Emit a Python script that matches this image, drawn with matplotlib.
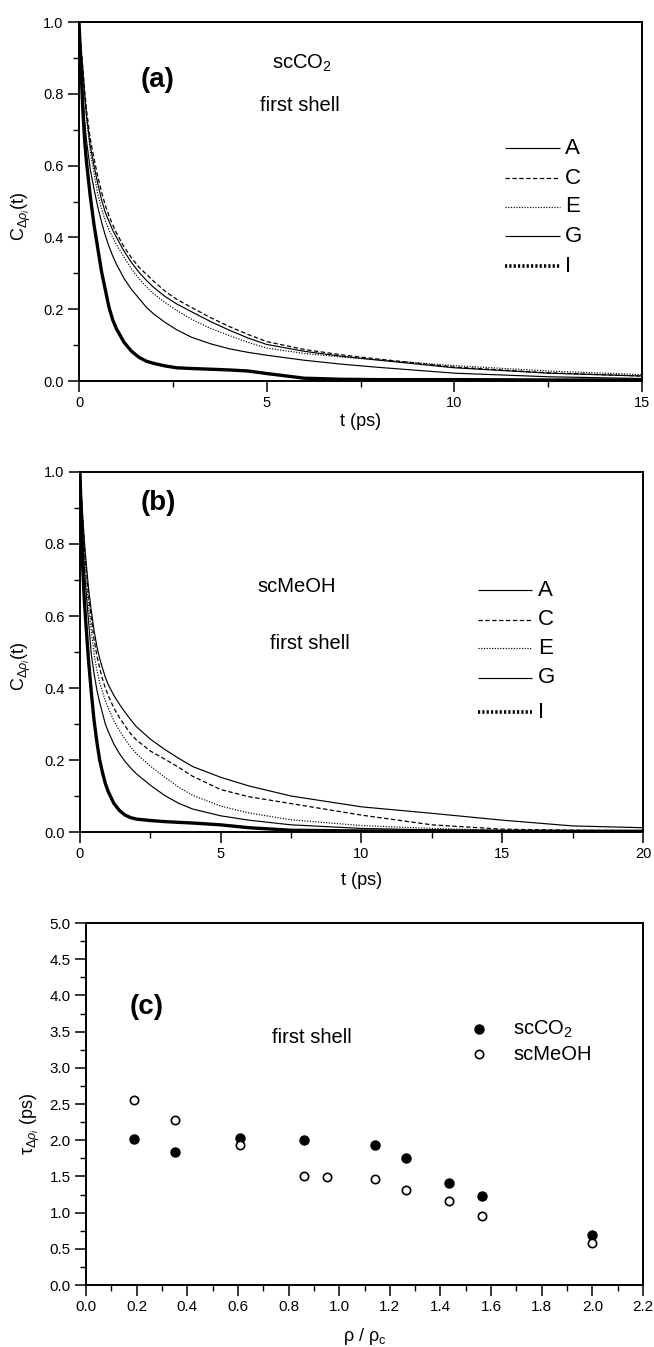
import matplotlib
matplotlib.use("Agg")
import matplotlib.pyplot as plt
from matplotlib.ticker import MultipleLocator
import numpy as np

plt.rcParams['font.family'] = ['Liberation Sans', 'DejaVu Sans']
plt.rcParams['mathtext.fontset'] = 'custom'
plt.rcParams['mathtext.rm'] = 'Liberation Sans'
plt.rcParams['mathtext.it'] = 'Liberation Sans:italic'
plt.rcParams['mathtext.bf'] = 'Liberation Sans:bold'

# ---- panel (a): scCO2, first shell ----
t_a = [0, 0.05, 0.1, 0.15, 0.2, 0.3, 0.4, 0.5, 0.6, 0.7, 0.8, 0.9, 1.0, 1.2,
       1.4, 1.6, 1.8, 2.0, 2.3, 2.6, 3.0, 3.5, 4.0, 4.5, 5.0, 6.0, 7.0, 8.0,
       10, 12.5, 15]
A_a = [1.0, 0.93, 0.87, 0.80, 0.74, 0.655, 0.60, 0.55, 0.505, 0.47, 0.445,
       0.42, 0.40, 0.362, 0.33, 0.303, 0.28, 0.26, 0.235, 0.215, 0.193, 0.166,
       0.142, 0.12, 0.102, 0.083, 0.069, 0.058, 0.037, 0.022, 0.014]
C_a = [1.0, 0.935, 0.875, 0.81, 0.755, 0.675, 0.62, 0.57, 0.527, 0.49, 0.46,
       0.435, 0.412, 0.374, 0.343, 0.317, 0.297, 0.277, 0.25, 0.228, 0.205,
       0.177, 0.152, 0.13, 0.11, 0.088, 0.073, 0.061, 0.039, 0.023, 0.014]
E_a = [1.0, 0.925, 0.86, 0.79, 0.73, 0.64, 0.58, 0.52, 0.48, 0.447, 0.42,
       0.40, 0.38, 0.345, 0.312, 0.285, 0.262, 0.242, 0.218, 0.197, 0.172,
       0.147, 0.127, 0.108, 0.092, 0.077, 0.067, 0.059, 0.043, 0.028, 0.018]
G_a = [1.0, 0.90, 0.80, 0.725, 0.67, 0.59, 0.535, 0.485, 0.443, 0.406, 0.375,
       0.348, 0.325, 0.286, 0.255, 0.23, 0.205, 0.186, 0.163, 0.143, 0.122,
       0.104, 0.09, 0.08, 0.072, 0.058, 0.047, 0.038, 0.022, 0.012, 0.007]
I_a = [1.0, 0.88, 0.76, 0.67, 0.61, 0.515, 0.435, 0.37, 0.305, 0.255, 0.205,
       0.17, 0.145, 0.108, 0.083, 0.066, 0.055, 0.049, 0.042, 0.037, 0.035,
       0.033, 0.031, 0.028, 0.021, 0.008, 0.005, 0.004, 0.004, 0.003, 0.003]

# ---- panel (b): scMeOH, first shell ----
t_b = [0, 0.05, 0.1, 0.15, 0.2, 0.3, 0.4, 0.5, 0.6, 0.7, 0.8, 0.9, 1.0, 1.2,
       1.4, 1.6, 1.8, 2.0, 2.5, 3.0, 3.5, 4.0, 5.0, 6.0, 7.5, 10, 12.5, 15,
       17.5, 20]
A_b = [1.0, 0.935, 0.875, 0.815, 0.765, 0.68, 0.615, 0.56, 0.515, 0.482, 0.455,
       0.43, 0.41, 0.38, 0.355, 0.333, 0.312, 0.293, 0.258, 0.23, 0.205, 0.182,
       0.152, 0.128, 0.10, 0.07, 0.052, 0.033, 0.017, 0.012]
C_b = [1.0, 0.93, 0.865, 0.80, 0.75, 0.66, 0.595, 0.535, 0.49, 0.455, 0.425,
       0.40, 0.38, 0.345, 0.318, 0.295, 0.273, 0.256, 0.225, 0.203, 0.18, 0.155,
       0.118, 0.098, 0.079, 0.047, 0.02, 0.008, 0.005, 0.004]
E_b = [1.0, 0.92, 0.85, 0.78, 0.725, 0.63, 0.56, 0.495, 0.45, 0.415, 0.39,
       0.365, 0.345, 0.31, 0.282, 0.258, 0.236, 0.218, 0.183, 0.153, 0.125,
       0.102, 0.072, 0.053, 0.034, 0.018, 0.01, 0.005, 0.004, 0.003]
G_b = [1.0, 0.91, 0.82, 0.74, 0.685, 0.59, 0.495, 0.44, 0.395, 0.36, 0.33,
       0.30, 0.28, 0.245, 0.218, 0.196, 0.178, 0.162, 0.13, 0.102, 0.08, 0.064,
       0.045, 0.033, 0.02, 0.01, 0.006, 0.004, 0.003, 0.002]
I_b = [1.0, 0.86, 0.73, 0.65, 0.59, 0.48, 0.39, 0.31, 0.25, 0.20, 0.165,
       0.135, 0.113, 0.08, 0.06, 0.047, 0.04, 0.036, 0.032, 0.029, 0.027, 0.025,
       0.02, 0.012, 0.005, 0.003, 0.003, 0.002, 0.002, 0.002]

series_labels = ['A', 'C', 'E', 'G', 'I']

# ---- panel (c): relaxation times ----
rho = [0.19, 0.35, 0.61, 0.86, 0.95, 1.14, 1.265, 1.435, 1.565, 2.0]
tau_co2 = [2.02, 1.84, 2.03, 2.00, np.nan, 1.94, 1.76, 1.41, 1.23, 0.69]
tau_meoh = [2.56, 2.28, 1.94, 1.50, 1.49, 1.47, 1.31, 1.16, 0.95, 0.575]

styles = [
    dict(color='black', lw=0.85, ls='-'),
    dict(color='black', lw=0.9, ls=(0, (3.5, 2))),
    dict(color='black', lw=0.85, ls=(0, (1, 1.3))),
    dict(color='black', lw=0.85, ls='-'),
    dict(color='black', lw=2.4, ls='-'),
]
legend_styles = styles[:4] + [dict(color='black', lw=2.6, ls=(0, (0.6, 0.6)))]

TICK_FS = 10.5
LABEL_FS = 13


def style_axes(ax, fs=TICK_FS):
    for sp in ax.spines.values():
        sp.set_linewidth(1.4)
    ax.tick_params(which='major', direction='out', length=8, width=1.1,
                   labelsize=fs, pad=3)
    ax.tick_params(which='minor', direction='out', length=4.5, width=1.0)
    ax.tick_params(top=False, right=False)


def draw_legend(ax, x0, x1, xt, ys):
    for st, lab, y in zip(legend_styles, series_labels, ys):
        ax.plot([x0, x1], [y, y], transform=ax.transAxes, solid_capstyle='butt', **st)
        ax.text(xt, y, lab, transform=ax.transAxes, fontsize=16, va='center', ha='left')


fig = plt.figure(figsize=(6.54, 13.47), dpi=100)

# panel (a)
ax1 = fig.add_axes([0.1208, 0.7171, 0.8609, 0.2665])
for ys, st in zip([A_a, C_a, E_a, G_a, I_a], styles):
    ax1.plot(t_a, ys, **st)
ax1.set_xlim(0, 15)
ax1.set_ylim(0, 1.0)
ax1.xaxis.set_major_locator(MultipleLocator(5))
ax1.xaxis.set_minor_locator(MultipleLocator(2.5))
ax1.yaxis.set_major_locator(MultipleLocator(0.2))
ax1.yaxis.set_minor_locator(MultipleLocator(0.1))
ax1.set_yticklabels([f"{v:.1f}" for v in ax1.get_yticks()])
style_axes(ax1)
ax1.set_xlabel("t (ps)", fontsize=LABEL_FS)
ax1.xaxis.set_label_coords(0.5, -0.088)
ax1.set_ylabel(r"C$_{\Delta\rho_i}$(t)", fontsize=LABEL_FS)
ax1.yaxis.set_label_coords(-0.082, 0.46)
ax1.text(0.14, 0.838, "(a)", transform=ax1.transAxes, fontsize=20,
         fontweight='bold', ha='center', va='center')
ax1.text(0.343, 0.886, "scCO$_2$", transform=ax1.transAxes, fontsize=14.5,
         ha='left', va='center')
ax1.text(0.321, 0.769, "first shell", transform=ax1.transAxes, fontsize=14.5,
         ha='left', va='center')
draw_legend(ax1, 0.757, 0.854, 0.863, [0.649, 0.565, 0.485, 0.404, 0.320])

# panel (b)
ax2 = fig.add_axes([0.1223, 0.3823, 0.8609, 0.2673])
for ys, st in zip([A_b, C_b, E_b, G_b, I_b], styles):
    ax2.plot(t_b, ys, **st)
ax2.set_xlim(0, 20)
ax2.set_ylim(0, 1.0)
ax2.xaxis.set_major_locator(MultipleLocator(5))
ax2.xaxis.set_minor_locator(MultipleLocator(2.5))
ax2.yaxis.set_major_locator(MultipleLocator(0.2))
ax2.yaxis.set_minor_locator(MultipleLocator(0.1))
ax2.set_yticklabels([f"{v:.1f}" for v in ax2.get_yticks()])
style_axes(ax2)
ax2.set_xlabel("t (ps)", fontsize=LABEL_FS)
ax2.xaxis.set_label_coords(0.5, -0.11)
ax2.set_ylabel(r"C$_{\Delta\rho_i}$(t)", fontsize=LABEL_FS)
ax2.yaxis.set_label_coords(-0.083, 0.46)
ax2.text(0.14, 0.914, "(b)", transform=ax2.transAxes, fontsize=20,
         fontweight='bold', ha='center', va='center')
ax2.text(0.316, 0.681, "scMeOH", transform=ax2.transAxes, fontsize=14.5,
         ha='left', va='center')
ax2.text(0.337, 0.525, "first shell", transform=ax2.transAxes, fontsize=14.5,
         ha='left', va='center')
draw_legend(ax2, 0.707, 0.803, 0.813, [0.672, 0.589, 0.511, 0.428, 0.333])

# panel (c)
ax3 = fig.add_axes([0.1315, 0.0460, 0.8517, 0.2687])
ax3.plot(rho, tau_co2, 'o', color='black', ms=6.5, ls='none')
ax3.plot(rho, tau_meoh, 'o', mfc='white', mec='black', mew=1.2, ms=6, ls='none')
ax3.set_xlim(0, 2.2)
ax3.set_ylim(0, 5.0)
ax3.xaxis.set_major_locator(MultipleLocator(0.2))
ax3.xaxis.set_minor_locator(MultipleLocator(0.1))
ax3.yaxis.set_major_locator(MultipleLocator(0.5))
ax3.yaxis.set_minor_locator(MultipleLocator(0.25))
ax3.set_xticklabels([f"{v:.1f}" for v in ax3.get_xticks()])
ax3.set_yticklabels([f"{v:.1f}" for v in ax3.get_yticks()])
style_axes(ax3, fs=11)
ax3.set_xlabel(r"ρ / ρ$_\mathrm{c}$", fontsize=LABEL_FS)
ax3.xaxis.set_label_coords(0.5, -0.112)
ax3.set_ylabel(r"τ$_{\Delta\rho_i}$ (ps)", fontsize=LABEL_FS)
ax3.yaxis.set_label_coords(-0.079, 0.447)
ax3.text(0.108, 0.768, "(c)", transform=ax3.transAxes, fontsize=20,
         fontweight='bold', ha='center', va='center')
ax3.text(0.334, 0.685, "first shell", transform=ax3.transAxes, fontsize=14.5,
         ha='left', va='center')
ax3.plot([0.706], [0.707], 'o', color='black', ms=6.5, transform=ax3.transAxes)
ax3.plot([0.706], [0.638], 'o', mfc='white', mec='black', mew=1.2, ms=6,
         transform=ax3.transAxes)
ax3.text(0.767, 0.707, "scCO$_2$", transform=ax3.transAxes, fontsize=14.5,
         ha='left', va='center')
ax3.text(0.767, 0.638, "scMeOH", transform=ax3.transAxes, fontsize=14.5,
         ha='left', va='center')

fig.savefig("out.png", dpi=100)
